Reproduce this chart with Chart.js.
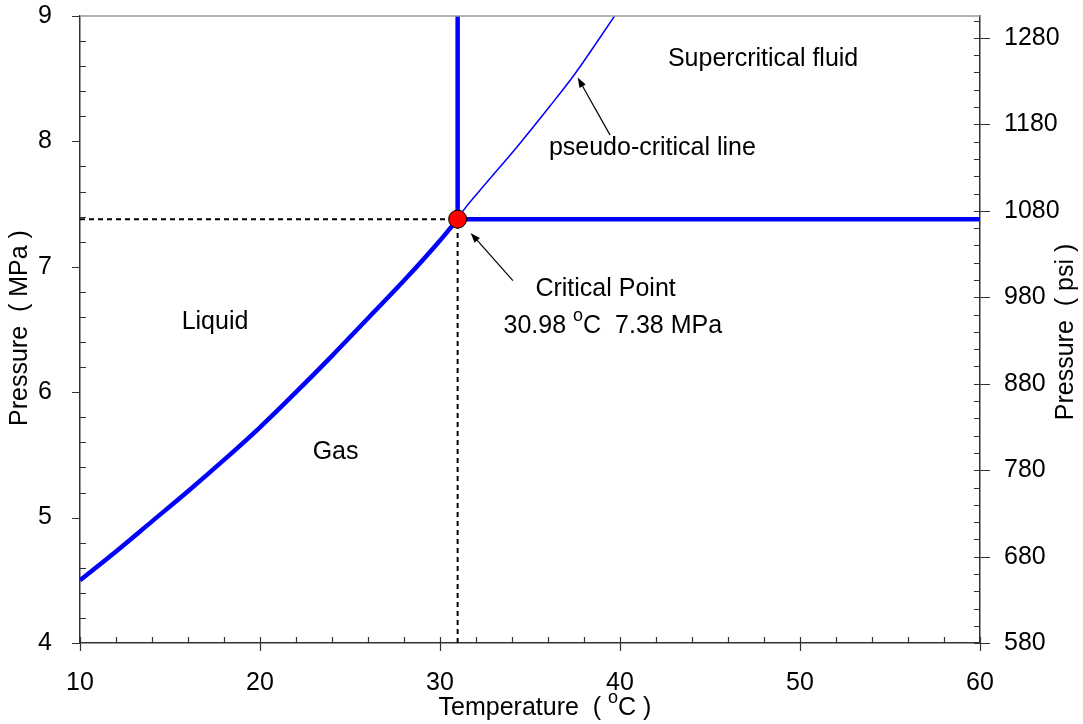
<!DOCTYPE html>
<html>
<head>
<meta charset="utf-8">
<script src="https://cdn.jsdelivr.net/npm/chart.js@4.4.0/dist/chart.umd.min.js"></script>
<style>
    html, body { margin: 0; padding: 0; background: #fff; }
    #wrap { width: 1083px; height: 724px; }
</style>
</head>
<body>
<div id="wrap"><canvas id="phaseChart"></canvas></div>
<script>
// ========== DONNÉES ==========
// courbe de saturation CO2 (°C, MPa)
const satTemp  = [10, 12, 14, 16, 18, 20, 22, 24, 26, 28, 30, 30.98];
const satPress = [4.50, 4.73, 4.97, 5.21, 5.46, 5.72, 6.00, 6.29, 6.59, 6.89, 7.21, 7.38];

// ligne pseudo-critique
const pseudoTemp  = [30.98, 31.3, 32.4, 34.3, 36.1, 37.5, 39.7];
const pseudoPress = [7.38, 7.45, 7.64, 7.96, 8.28, 8.54, 9.0];

// point critique
const critTemp = 30.98;
const critPress = 7.38;

// axes
const tempMin = 10, tempMax = 60;
const pressMin = 4, pressMax = 9;
const MPA_TO_PSI = 145.038;
const tempTicks = [10, 20, 30, 40, 50, 60];
const tempMinorStep = 2;
const pressTicks = [4, 5, 6, 7, 8, 9];
const pressMinorStep = 0.2;
const psiTicks = [580, 680, 780, 880, 980, 1080, 1180, 1280];
const psiMinorStep = 20;

const FONT = "'Liberation Sans', Arial, sans-serif";
const FS = 25;
const BLUE = '#0000ff';
const AXIS = '#333333';

const pts = (xs, ys) => xs.map((x, i) => ({ x: x, y: ys[i] }));

// ========== PLUGIN: ticks, cadre, textes ==========
const decorPlugin = {
    id: 'decor',
    afterDraw(chart) {
        const ctx = chart.ctx;
        const { left, right, top, bottom } = chart.chartArea;
        const sx = chart.scales.x, sy = chart.scales.y, s2 = chart.scales.y2;

        ctx.save();
        // cadre supérieur gris
        ctx.strokeStyle = '#999';
        ctx.lineWidth = 1.5;
        ctx.beginPath();
        ctx.moveTo(left, top); ctx.lineTo(right, top);
        ctx.stroke();

        ctx.strokeStyle = AXIS;
        ctx.lineWidth = 1.2;
        ctx.beginPath();
        // x
        for (let t = tempMin; t <= tempMax + 1e-9; t += tempMinorStep) {
            const px = Math.round(sx.getPixelForValue(t)) + 0.5;
            const major = tempTicks.includes(Math.round(t));
            ctx.moveTo(px, bottom - 6);
            ctx.lineTo(px, bottom + (major ? 8 : 0));
        }
        // y gauche
        for (let p = pressMin; p <= pressMax + 1e-9; p += pressMinorStep) {
            const py = Math.round(sy.getPixelForValue(p)) + 0.5;
            const major = Math.abs(p - Math.round(p)) < 1e-6;
            ctx.moveTo(left - (major ? 8 : 0), py);
            ctx.lineTo(left + (major ? 0 : 6), py);
        }
        // y droite (psi)
        for (let v = psiTicks[0]; v <= s2.max; v += psiMinorStep) {
            const py = Math.round(s2.getPixelForValue(v)) + 0.5;
            const major = psiTicks.includes(v);
            ctx.moveTo(right - 6, py);
            ctx.lineTo(right + (major ? 10 : 0), py);
        }
        ctx.stroke();

        // flèches
        drawArrow(ctx, sx, sy, 39.45, 8.05, 37.65, 8.51);
        drawArrow(ctx, sx, sy, 34.05, 6.89, 31.7, 7.27);

        // textes
        ctx.fillStyle = '#000';
        label(ctx, sx, sy, 17.5, 6.56, [['Liquid']]);
        label(ctx, sx, sy, 24.2, 5.52, [['Gas']]);
        label(ctx, sx, sy, 47.95, 8.66, [['Supercritical fluid']]);
        label(ctx, sx, sy, 41.8, 7.95, [['pseudo-critical line']]);
        label(ctx, sx, sy, 39.2, 6.82, [['Critical Point']]);
        label(ctx, sx, sy, 39.6, 6.53, [['30.98 '], ['o', 'sup'], ['C  7.38 MPa']]);

        // titres d'axes
        richText(ctx, (left + right) / 2 + 15, 708, [['Temperature  ( '], ['o', 'sup'], ['C )']]);
        ctx.save();
        ctx.translate(20, 328);
        ctx.rotate(-Math.PI / 2);
        richText(ctx, 0, 0, [['Pressure  ( MPa )']]);
        ctx.restore();
        ctx.save();
        ctx.translate(1066, 332);
        ctx.rotate(-Math.PI / 2);
        richText(ctx, 0, 0, [['Pressure  ( psi )']]);
        ctx.restore();

        ctx.restore();
    }
};

function drawArrow(ctx, sx, sy, x0, y0, x1, y1) {
    const ax = sx.getPixelForValue(x0), ay = sy.getPixelForValue(y0);
    const bx = sx.getPixelForValue(x1), by = sy.getPixelForValue(y1);
    const ang = Math.atan2(by - ay, bx - ax);
    const len = 10, w = 3.5;
    ctx.save();
    ctx.strokeStyle = '#000';
    ctx.fillStyle = '#000';
    ctx.lineWidth = 1.2;
    ctx.beginPath();
    ctx.moveTo(ax, ay);
    ctx.lineTo(bx - Math.cos(ang) * len * 0.8, by - Math.sin(ang) * len * 0.8);
    ctx.stroke();
    ctx.beginPath();
    ctx.moveTo(bx, by);
    ctx.lineTo(bx - Math.cos(ang) * len - Math.sin(ang) * w, by - Math.sin(ang) * len + Math.cos(ang) * w);
    ctx.lineTo(bx - Math.cos(ang) * len + Math.sin(ang) * w, by - Math.sin(ang) * len - Math.cos(ang) * w);
    ctx.closePath();
    ctx.fill();
    ctx.restore();
}

function label(ctx, sx, sy, t, p, parts) {
    richText(ctx, sx.getPixelForValue(t), sy.getPixelForValue(p), parts);
}

// texte centré avec exposants
function richText(ctx, cx, cy, parts) {
    const small = Math.round(FS * 0.7);
    ctx.textBaseline = 'middle';
    ctx.textAlign = 'left';
    let total = 0;
    parts.forEach(([s, kind]) => {
        ctx.font = (kind === 'sup' ? small : FS) + 'px ' + FONT;
        total += ctx.measureText(s).width;
    });
    let x = cx - total / 2;
    parts.forEach(([s, kind]) => {
        ctx.font = (kind === 'sup' ? small : FS) + 'px ' + FONT;
        ctx.fillText(s, x, kind === 'sup' ? cy - FS * 0.38 : cy);
        x += ctx.measureText(s).width;
    });
}

// ========== GRAPHIQUE ==========
const tickFont = { family: FONT, size: FS };
const plainLabel = (v) => String(v);

new Chart(document.getElementById('phaseChart'), {
    type: 'scatter',
    data: {
        datasets: [
            {
                data: [{ x: critTemp, y: critPress }],
                pointRadius: 9,
                pointBackgroundColor: '#ff0000',
                pointBorderColor: '#000',
                pointBorderWidth: 1,
                clip: false,
                order: 0
            },
            {
                data: pts(satTemp, satPress),
                showLine: true, borderColor: BLUE, borderWidth: 4.5,
                pointRadius: 0, cubicInterpolationMode: 'monotone', order: 1
            },
            {
                data: [{ x: critTemp, y: critPress }, { x: critTemp, y: pressMax }],
                showLine: true, borderColor: BLUE, borderWidth: 4.5,
                pointRadius: 0, order: 1
            },
            {
                data: [{ x: critTemp, y: critPress }, { x: tempMax, y: critPress }],
                showLine: true, borderColor: BLUE, borderWidth: 4.5,
                pointRadius: 0, order: 1
            },
            {
                data: pts(pseudoTemp, pseudoPress),
                showLine: true, borderColor: BLUE, borderWidth: 1.5,
                pointRadius: 0, cubicInterpolationMode: 'monotone', order: 1
            },
            {
                data: [{ x: tempMin, y: critPress }, { x: critTemp, y: critPress }],
                showLine: true, borderColor: '#000', borderWidth: 2,
                borderDash: [5, 4], pointRadius: 0, order: 2
            },
            {
                data: [{ x: critTemp, y: pressMin }, { x: critTemp, y: critPress }],
                showLine: true, borderColor: '#000', borderWidth: 2,
                borderDash: [5, 4], pointRadius: 0, order: 2
            }
        ]
    },
    options: {
        responsive: true,
        maintainAspectRatio: false,
        animation: false,
        events: [],
        layout: { autoPadding: false, padding: { top: 16, left: 0, right: 0, bottom: 0 } },
        plugins: { legend: { display: false }, tooltip: { enabled: false } },
        scales: {
            x: {
                type: 'linear', min: tempMin, max: tempMax,
                grid: { display: false },
                border: { display: true, color: AXIS, width: 1.5 },
                ticks: { color: '#000', font: tickFont, padding: 17, maxRotation: 0, callback: plainLabel },
                afterBuildTicks: (s) => { s.ticks = tempTicks.map(v => ({ value: v })); },
                afterFit: (s) => { s.height = 81; s.paddingLeft = 0; s.paddingRight = 0; }
            },
            y: {
                type: 'linear', position: 'left', min: pressMin, max: pressMax,
                grid: { display: false },
                border: { display: true, color: AXIS, width: 1.5 },
                ticks: { color: '#000', font: tickFont, padding: 20, callback: plainLabel },
                afterBuildTicks: (s) => { s.ticks = pressTicks.map(v => ({ value: v })); },
                afterFit: (s) => { s.width = 80; s.paddingTop = 0; s.paddingBottom = 0; }
            },
            y2: {
                type: 'linear', position: 'right',
                min: pressMin * MPA_TO_PSI, max: pressMax * MPA_TO_PSI,
                grid: { display: false },
                border: { display: true, color: AXIS, width: 1.5 },
                ticks: { color: '#000', font: tickFont, padding: 16, callback: plainLabel },
                afterBuildTicks: (s) => { s.ticks = psiTicks.map(v => ({ value: v })); },
                afterFit: (s) => { s.width = 103; s.paddingTop = 0; s.paddingBottom = 0; }
            }
        }
    },
    plugins: [decorPlugin]
});
</script>
</body>
</html>
